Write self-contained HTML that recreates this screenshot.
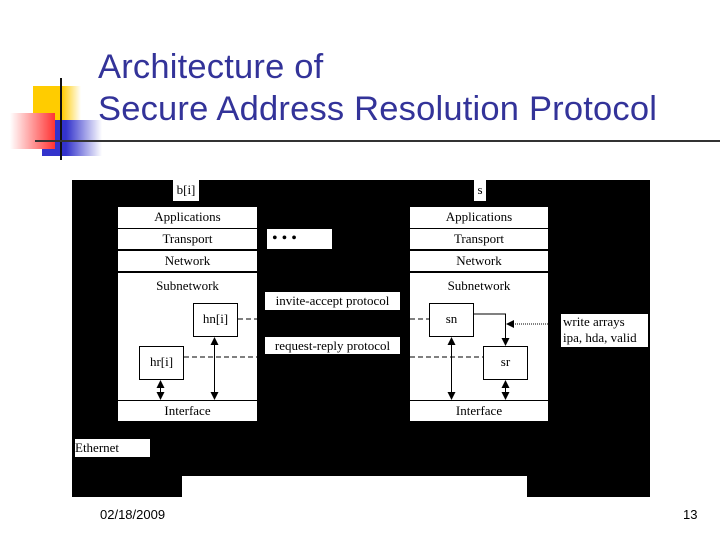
<!DOCTYPE html>
<html><head><style>
body{margin:0;width:720px;height:540px;position:relative;background:#fff;overflow:hidden;font-family:"Liberation Sans",sans-serif}
.a{position:absolute}
.t{font-family:"Liberation Serif",serif;font-size:13px;color:#000;background:#fff;text-align:center;line-height:20px}
.bx{position:absolute;background:#fff;border:1px solid #000;box-sizing:border-box;font-family:"Liberation Serif",serif;font-size:13px;text-align:center}
</style></head><body>
<div class="a" style="left:33px;top:86px;width:48px;height:44px;background:linear-gradient(90deg,#ffcc00 60%,#fff)"></div>
<div class="a" style="left:42px;top:120px;width:60px;height:36px;background:linear-gradient(90deg,#3333cc 40%,#fff)"></div>
<div class="a" style="left:10px;top:113px;width:45px;height:36px;background:linear-gradient(90deg,#fff,#ff3333)"></div>
<div class="a" style="left:60px;top:78px;width:2px;height:82px;background:#111"></div>
<div class="a" style="left:35px;top:140px;width:685px;height:2px;background:#333"></div>
<div class="a" style="left:98px;top:46px;font-size:34.5px;line-height:42px;color:#333399;letter-spacing:0.2px;white-space:nowrap">Architecture of<br>Secure Address Resolution Protocol</div>

<div class="a" style="left:72px;top:180px;width:578px;height:317px;background:#000"></div>
<div class="a" style="left:182px;top:476px;width:345px;height:21px;background:#fff"></div>

<div class="a t" style="left:173px;top:180px;width:26px;height:21px">b[i]</div>
<div class="a t" style="left:474px;top:180px;width:12px;height:21px">s</div>
<div class="a t" style="left:267px;top:229px;width:65px;height:20px;text-align:left;padding-left:5px;box-sizing:border-box;font-size:16px">• • •</div>

<div class="a t" style="left:118px;top:207px;width:139px;height:21px">Applications</div>
<div class="a t" style="left:118px;top:229px;width:139px;height:20px">Transport</div>
<div class="a t" style="left:118px;top:251px;width:139px;height:20px">Network</div>
<div class="a t" style="left:118px;top:273px;width:139px;height:127px;line-height:26px">Subnetwork</div>
<div class="a t" style="left:118px;top:401px;width:139px;height:20px">Interface</div>
<div class="bx" style="left:193px;top:303px;width:45px;height:34px;line-height:30px">hn[i]</div>
<div class="bx" style="left:139px;top:346px;width:45px;height:34px;line-height:30px">hr[i]</div>

<div class="a t" style="left:410px;top:207px;width:138px;height:21px">Applications</div>
<div class="a t" style="left:410px;top:229px;width:138px;height:20px">Transport</div>
<div class="a t" style="left:410px;top:251px;width:138px;height:20px">Network</div>
<div class="a t" style="left:410px;top:273px;width:138px;height:127px;line-height:26px">Subnetwork</div>
<div class="a t" style="left:410px;top:401px;width:138px;height:20px">Interface</div>
<div class="bx" style="left:429px;top:303px;width:45px;height:34px;line-height:30px">sn</div>
<div class="bx" style="left:483px;top:346px;width:45px;height:34px;line-height:30px">sr</div>

<div class="a t" style="left:265px;top:292px;width:135px;height:18px;line-height:18px">invite-accept protocol</div>
<div class="a t" style="left:265px;top:337px;width:135px;height:17px;line-height:17px">request-reply protocol</div>
<div class="a t" style="left:561px;top:314px;width:87px;height:33px;line-height:16px;text-align:left;padding-left:2px;box-sizing:border-box">write arrays<br>ipa, hda, valid</div>
<div class="a t" style="left:75px;top:439px;width:75px;height:18px;line-height:18px;text-align:left">Ethernet</div>

<svg class="a" style="left:0;top:0" width="720" height="540">
<defs><marker id="m" markerWidth="8" markerHeight="8" refX="7" refY="4" orient="auto-start-reverse" markerUnits="userSpaceOnUse"><path d="M0,0L8,4L0,8z" fill="#000"/></marker></defs>
<g stroke="#000" stroke-width="1" fill="none">
<line x1="118" y1="400.5" x2="257" y2="400.5"/>
<line x1="410" y1="400.5" x2="548" y2="400.5"/>
<line x1="238" y1="319" x2="257" y2="319" stroke-dasharray="5,3"/>
<line x1="184" y1="357" x2="257" y2="357" stroke-dasharray="5,3"/>
<line x1="410" y1="319" x2="429" y2="319" stroke-dasharray="5,3"/>
<line x1="410" y1="357" x2="483" y2="357" stroke-dasharray="5,3"/>
<line x1="160.5" y1="381" x2="160.5" y2="399" marker-start="url(#m)" marker-end="url(#m)"/>
<line x1="214.5" y1="338" x2="214.5" y2="399" marker-start="url(#m)" marker-end="url(#m)"/>
<line x1="451.5" y1="338" x2="451.5" y2="399" marker-start="url(#m)" marker-end="url(#m)"/>
<line x1="505.5" y1="381" x2="505.5" y2="399" marker-start="url(#m)" marker-end="url(#m)"/>
<polyline points="474,314 505.5,314 505.5,345" marker-end="url(#m)"/>
<line x1="560" y1="324" x2="507" y2="324" stroke-dasharray="1,1" marker-end="url(#m)"/>
</g></svg>

<div class="a" style="left:100px;top:507px;font-size:13px">02/18/2009</div>
<div class="a" style="left:683px;top:507px;font-size:13px">13</div>
</body></html>
